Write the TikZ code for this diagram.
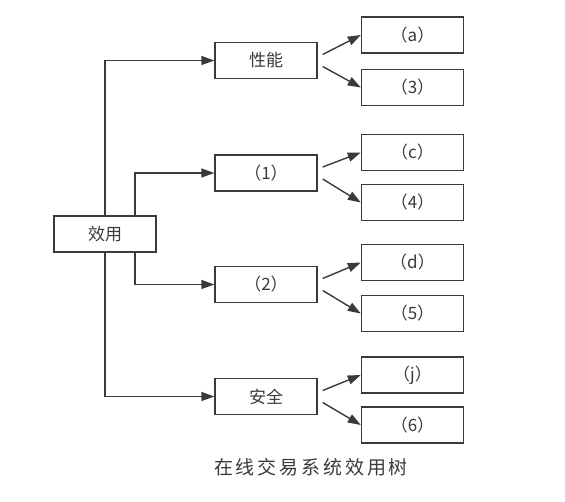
\documentclass[tikz,border=0pt]{standalone}
\usepackage{fontspec}
\setmainfont{Noto Sans CJK SC}
\usetikzlibrary{arrows.meta}
\definecolor{ink}{HTML}{3A3A3A}
\tikzset{
  box/.style={draw=ink, line width=1.4pt, minimum width=102pt, minimum height=36pt, inner sep=0pt, text=ink, font=\fontsize{17}{17}\selectfont},
  arr/.style={draw=ink, line width=1.4pt, -{Triangle[length=13pt,width=9pt]}},
}
\begin{document}
\begin{tikzpicture}[x=1pt,y=-1pt]
\useasboundingbox (0,0) rectangle (565,502);
\node[box] (root) at (105,234) {效用};
\node[box] (p1) at (266,60.5) {性能};
\node[box] (p2) at (266,173) {（1）};
\node[box] (p3) at (266,284.5) {（2）};
\node[box] (p4) at (266,396.5) {安全};
\node[box] (a) at (412.5,35) {（a）};
\node[box] (n3) at (412.5,87.5) {（3）};
\node[box] (c) at (412.5,152.5) {（c）};
\node[box] (n4) at (412.5,202.5) {（4）};
\node[box] (d) at (412.5,262.5) {（d）};
\node[box] (n5) at (412.5,313.5) {（5）};
\node[box] (j) at (412.5,375) {（j）};
\node[box] (n6) at (412.5,425) {（6）};
\node[text=ink, font=\fontsize{19}{19}\selectfont\addfontfeature{LetterSpace=15}] (cap) at (311,467) {在线交易系统效用树};
\draw[arr] (root.north) |- (p1.west);
\draw[arr] ([xshift=30pt]root.north) |- (p2.west);
\draw[arr] ([xshift=30pt]root.south) |- (p3.west);
\draw[arr] (root.south) |- (p4.west);
\foreach \p/\u/\l in {p1/a/n3, p2/c/n4, p3/d/n5, p4/j/n6}{
  \draw[arr] ([xshift=5pt,yshift=6pt]\p.east) -- (\u.west);
  \draw[arr] ([xshift=5pt,yshift=-6pt]\p.east) -- (\l.west);
}
\end{tikzpicture}
\end{document}
